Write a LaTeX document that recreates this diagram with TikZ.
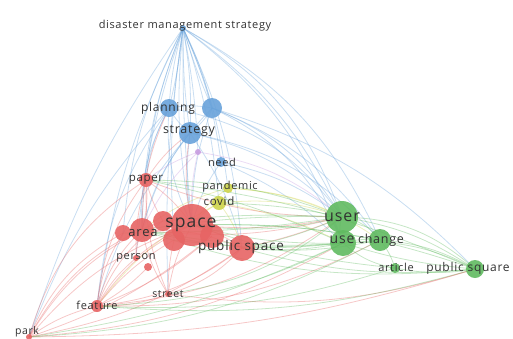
\documentclass[tikz,border=0pt]{standalone}
\usepackage{fontspec}
\setsansfont[LetterSpace=6]{Open Sans}
\usetikzlibrary{backgrounds}
\definecolor{vosred}{RGB}{231,100,100}
\definecolor{vosblue}{RGB}{104,162,218}
\definecolor{vosgreen}{RGB}{96,186,96}
\definecolor{vosyellow}{RGB}{206,212,76}
\definecolor{vospurple}{RGB}{200,156,224}
\definecolor{voslabel}{RGB}{50,50,50}
\tikzset{
  bub/.style={circle, fill=#1, fill opacity=0.9, inner sep=0pt, outer sep=0pt},
  link/.style={draw=#1, line width=0.8pt, draw opacity=0.36},
  lbl/.style={font=\sffamily\fontsize{#1}{#1}\selectfont, text=voslabel, inner sep=0pt}
}
\begin{document}
\begin{tikzpicture}[x=1pt, y=-1pt]
    \useasboundingbox (0,0) rectangle (513,338);
    % burbujas
    \foreach \name/\x/\y/\r/\col in {dms/183/28/3/vosblue, planning/169/108/9/vosblue,
        bluenode/212/108/10/vosblue, strategy/190/133/11/vosblue, purplenode/198/152/3/vospurple,
        need/221/162/5/vosblue, paper/146/180/7/vosred, pandemic/228/188/5/vosyellow,
        covid/219/203/7/vosyellow, spaceb/163/221/10/vosred, spacec/174/240/11/vosred,
        spaced/212/236/12/vosred, space/192/225/21/vosred, arealeft/123/233/8/vosred,
        area/142/230/12/vosred, publicspace/242/248/13/vosred, person/136/258/3/vosred,
        personb/148/267/4/vosred, street/168/294/3/vosred, feature/97/306/6/vosred,
        park/29/337/3/vosred, user/342/217/16/vosgreen, use/343/243/13/vosgreen,
        change/380/240/11/vosgreen, article/395/268/5/vosgreen, publicsquare/475/269/9/vosgreen}
    \node[bub=\col, minimum size=\r*2pt] (\name) at (\x,\y) {};
    % enlaces
    \begin{pgfonlayer}{background}
    \foreach \a/\b/\col/\bd in {dms/planning/vosblue/-6, dms/planning/vosblue/4,
        dms/bluenode/vosblue/6, dms/bluenode/vosblue/-3, dms/strategy/vosblue/-4,
        dms/strategy/vosblue/6, dms/need/vosblue/8, dms/purplenode/vosblue/4,
        dms/space/vosblue/-8, dms/space/vosblue/-3, dms/area/vosblue/-10,
        dms/arealeft/vosblue/-11, dms/paper/vosblue/-8, dms/feature/vosblue/-9,
        dms/park/vosblue/-8, dms/publicspace/vosblue/10, dms/user/vosblue/20,
        dms/user/vosblue/14, dms/use/vosblue/16, dms/change/vosblue/18,
        dms/covid/vosblue/6, dms/pandemic/vosblue/8, dms/street/vosblue/-5,
        dms/person/vosblue/-7, dms/spacec/vosblue/-6,
        planning/bluenode/vosblue/10, planning/strategy/vosblue/-10, bluenode/strategy/vosblue/10,
        planning/space/vosblue/-15, planning/area/vosblue/-15, planning/paper/vosblue/-10,
        planning/user/vosblue/22, bluenode/user/vosblue/18, bluenode/use/vosblue/20,
        bluenode/change/vosblue/16, bluenode/publicsquare/vosblue/14, bluenode/space/vosblue/-10,
        strategy/space/vosblue/-8, strategy/user/vosblue/16, strategy/change/vosblue/18,
        strategy/publicspace/vosblue/10, strategy/feature/vosblue/-12, need/user/vosblue/12,
        need/space/vosblue/-10, planning/feature/vosblue/-14, planning/park/vosblue/-10,
        strategy/area/vosblue/-12, bluenode/area/vosblue/-14, need/use/vosblue/10,
        purplenode/space/vospurple/-8, purplenode/paper/vospurple/-8, purplenode/user/vospurple/15,
        purplenode/area/vospurple/-10,
        covid/user/vosyellow/12, pandemic/user/vosyellow/10, covid/space/vosyellow/-10,
        pandemic/space/vosyellow/-10, covid/publicspace/vosyellow/10, pandemic/change/vosyellow/15,
        covid/use/vosyellow/8, pandemic/area/vosyellow/-10, covid/feature/vosyellow/-12,
        space/area/vosred/10, space/paper/vosred/-10, space/publicspace/vosred/10,
        space/person/vosred/-10, space/street/vosred/-10, space/feature/vosred/-15,
        space/park/vosred/-15, area/paper/vosred/-10, area/feature/vosred/-15,
        area/park/vosred/-15, area/person/vosred/-10, area/street/vosred/-10,
        paper/feature/vosred/-15, paper/park/vosred/-20, publicspace/feature/vosred/15,
        publicspace/street/vosred/15, publicspace/park/vosred/12, person/feature/vosred/-10,
        street/feature/vosred/10, feature/park/vosred/-10, paper/strategy/vosred/10,
        space/strategy/vosred/10, space/user/vosred/-8, area/user/vosred/-10,
        publicspace/user/vosred/-5, feature/user/vosred/-15, park/use/vosred/-12,
        street/publicsquare/vosred/-12, park/publicsquare/vosred/-8, feature/change/vosred/-14,
        paper/user/vosred/-10, arealeft/park/vosred/-18, arealeft/feature/vosred/-12,
        spaceb/park/vosred/-20, spacec/feature/vosred/-10, spaced/feature/vosred/10,
        paper/street/vosred/-12, paper/person/vosred/-8, personb/feature/vosred/8,
        spacec/street/vosred/-6, spaced/park/vosred/10, publicspace/area/vosred/-12,
        area/planning/vosred/12, paper/spaceb/vosred/-8, spaceb/feature/vosred/-16,
        user/use/vosgreen/-20, user/change/vosgreen/20,
        use/change/vosgreen/10, change/article/vosgreen/10, use/article/vosgreen/-15,
        user/publicsquare/vosgreen/20, use/publicsquare/vosgreen/15, user/publicsquare/vosgreen/12,
        change/publicsquare/vosgreen/12, article/publicsquare/vosgreen/-10, use/publicsquare/vosgreen/-6,
        user/space/vosgreen/10, use/space/vosgreen/8, use/area/vosgreen/10,
        user/area/vosgreen/-5, use/publicspace/vosgreen/8, user/paper/vosgreen/-10,
        publicsquare/space/vosgreen/-10, publicsquare/publicspace/vosgreen/10,
        publicsquare/area/vosgreen/12, publicsquare/feature/vosgreen/10, use/feature/vosgreen/12,
        change/park/vosgreen/12, user/covid/vosgreen/-5, user/street/vosgreen/15,
        user/spaceb/vosgreen/-4, use/spacec/vosgreen/6, change/space/vosgreen/-6,
        change/area/vosgreen/8, article/space/vosgreen/6, article/feature/vosgreen/10,
        user/publicspace/vosgreen/6, use/paper/vosgreen/-6, change/publicspace/vosgreen/8,
        user/arealeft/vosgreen/4, use/park/vosgreen/8, publicsquare/paper/vosgreen/-8}
    \draw[link=\col] (\a.center) to[bend left=\bd] (\b.center);
    \end{pgfonlayer}
    % etiquetas
    \foreach \name/\txt/\sz/\dx/\dy in {dms/disaster management strategy/11/2/-2,
        planning/planning/12/-1/0, strategy/strategy/12.5/-1/-2, need/need/11/1/0,
        paper/paper/11.5/0/0, pandemic/pandemic/11/2/-1, covid/covid/11.5/0/-2,
        space/space/17.5/-1/0, area/area/13/1/3, publicspace/public space/13.5/-1/-1,
        person/person/11/0/0, street/street/10.5/0/0, feature/feature/11/0/-1,
        park/park/10.5/-2/-5, user/user/16/0/0, use/use/14/-1/-3, change/change/12.5/1/0,
        article/article/11/1/-1, publicsquare/public square/12/-7/-1}
    \node[lbl=\sz] (\name-lbl) at ([shift={(\dx,\dy)}]\name) {\txt};
\end{tikzpicture}
\end{document}
